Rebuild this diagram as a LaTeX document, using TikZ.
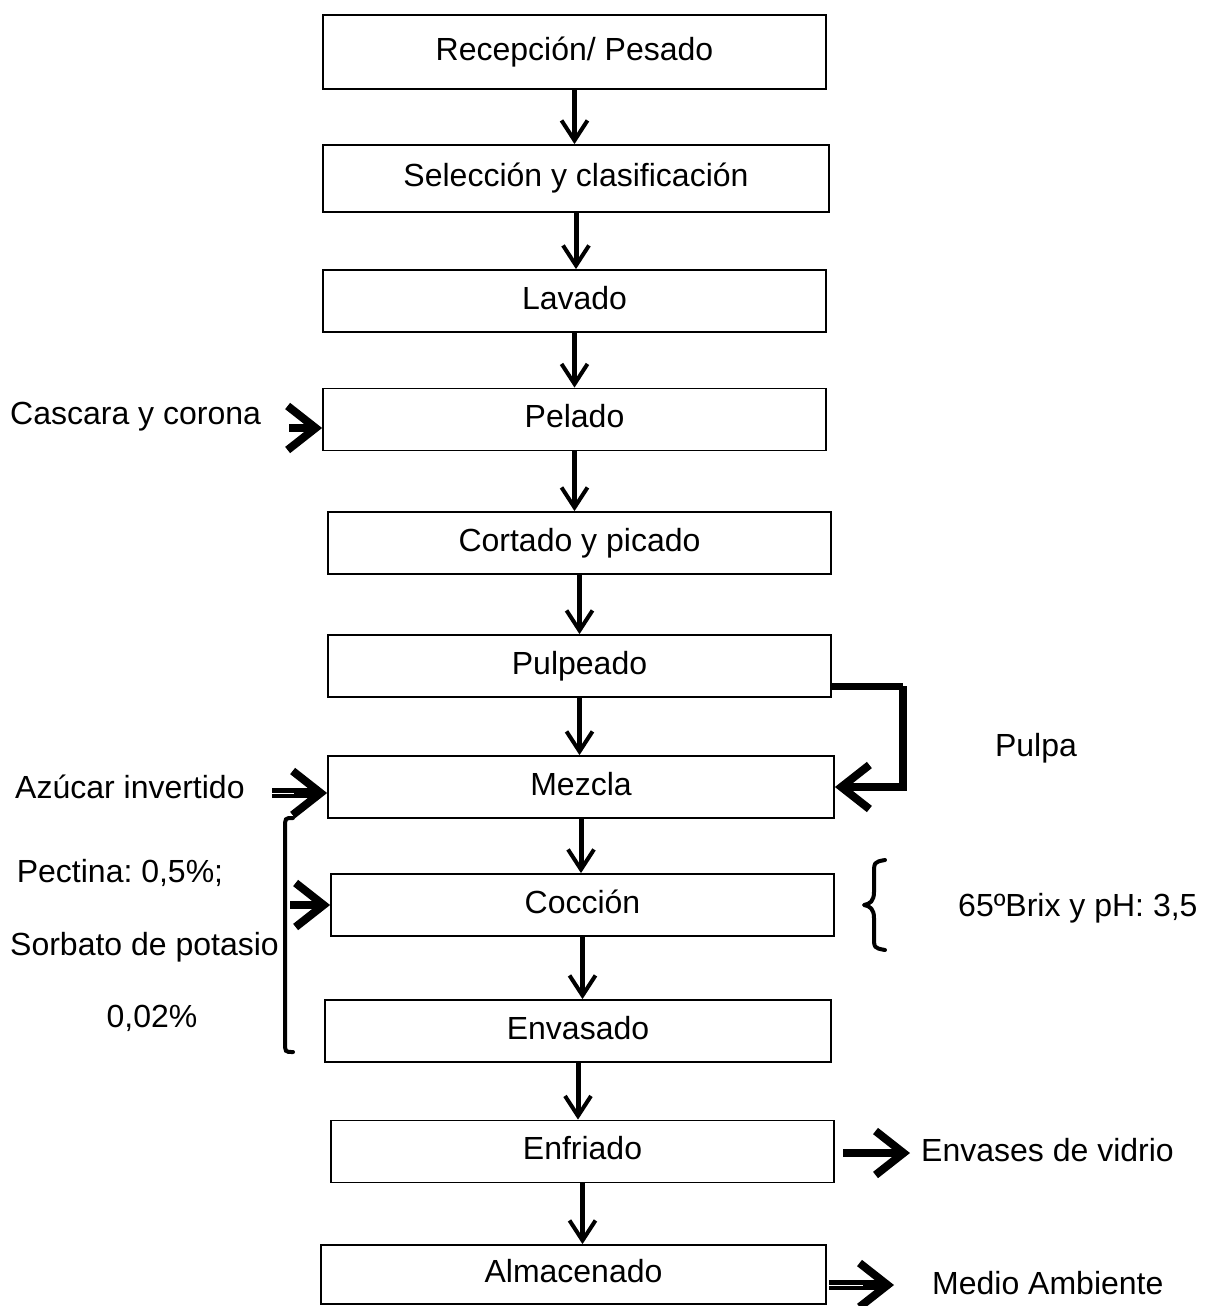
\documentclass[tikz,border=0pt]{standalone}
\usepackage{fontspec}
\setmainfont{Liberation Sans}
\usetikzlibrary{arrows.meta}
\begin{document}
\frenchspacing
\begin{tikzpicture}[x=1pt,y=-1pt,
  every node/.style={font=\fontsize{32}{38}\selectfont, inner sep=0pt},
  proc/.style={draw, line width=1.8pt, minimum height=62pt, text height=23pt, text depth=7pt},
  lbl/.style={anchor=base west},
  vtip/.style={-{Straight Barb[length=20pt,width=26pt,line width=4pt]}, line width=5pt},
  htip/.style={-{Straight Barb[length=28pt,width=44pt,line width=8pt]}, line width=8pt}
]
\useasboundingbox (0,0) rectangle (1205,1306);
\node[proc, minimum width=503pt, minimum height=74pt] (b1) at (574.5,52) {Recepción/ Pesado};
\node[proc, minimum width=506pt, minimum height=67pt] (b2) at (576,178.5) {Selección y clasificación};
\node[proc, minimum width=503pt] (b3) at (574.5,301) {Lavado};
\node[proc, minimum width=503pt] (b4) at (574.5,419.5) {Pelado};
\node[proc, minimum width=503pt] (b5) at (579.5,543) {Cortado y picado};
\node[proc, minimum width=503pt] (b6) at (579.5,666) {Pulpeado};
\node[proc, minimum width=506pt] (b7) at (581,787) {Mezcla};
\node[proc, minimum width=503pt] (b8) at (582.5,905) {Cocción};
\node[proc, minimum width=506pt] (b9) at (578,1031) {Envasado};
\node[proc, minimum width=503pt] (b10) at (582.5,1151.5) {Enfriado};
\node[proc, minimum width=505pt, minimum height=59pt] (b11) at (573.5,1274.5) {Almacenado};

\foreach \a/\b in {b1/b2,b2/b3,b3/b4,b4/b5,b5/b6,b6/b7,b7/b8,b8/b9,b9/b10,b10/b11}
  \draw[vtip] (\a.south) -- (\a.south |- \b.north);

% side inputs
\node[lbl] (cas) at (10,424) {Cascara y corona};
\coordinate (casA) at (289,428);
\draw[htip] (casA) -- (casA -| b4.west);

\node[lbl] (azu) at (15,798) {Azúcar invertido};
\coordinate (azuA) at (272,793);
\draw[htip, line width=10pt] (azuA) -- (azuA -| b7.west);
\draw[white, line width=0.9pt] (azuA) -- ++(22,0);

% pulpa loop
\coordinate (lp1) at ([yshift=-20pt]b6.east);
\coordinate (lp2) at (903,686);
\draw[line width=7pt] (lp1) -- (lp2);
\draw[htip] (lp2) |- (b7.east);
\node (pulpa) at (1036,748) {Pulpa};

% left bracket
\draw[line width=4pt, line cap=round] (293,818) .. controls (285,818) .. (285,828) -- (285,1042) .. controls (285,1052) .. (293,1052);
\coordinate (cocA) at (290,905);
\draw[htip] (cocA) -- (cocA -| b8.west);
\node (pec) at (120,873) {Pectina: 0,5\%;};
\node[lbl] (sor) at (10,955) {Sorbato de potasio};
\node (pct) at (152,1018) {0,02\%};

% right brace
\draw[line width=4pt, line cap=round, line join=round] (885,860) .. controls (874,862) .. (874,875) -- (874,892) .. controls (874,901) and (870,904) .. (864,905) .. controls (870,906) and (874,909) .. (874,918) -- (874,936) .. controls (874,948) .. (885,950);
\node[lbl] (brix) at (958,916) {65ºBrix y pH: 3,5};

% outputs
\node[lbl] (env) at (921,1161) {Envases de vidrio};
\coordinate (enA) at (843,1153);
\draw[htip] (enA) -- (910,1153);
\node[lbl] (med) at (932,1294) {Medio Ambiente};
\coordinate (medA) at (829,1285);
\draw[htip, line width=10pt] (medA) -- (894,1285);
\draw[white, line width=0.9pt] (medA) -- ++(34,0);
\end{tikzpicture}
\end{document}
